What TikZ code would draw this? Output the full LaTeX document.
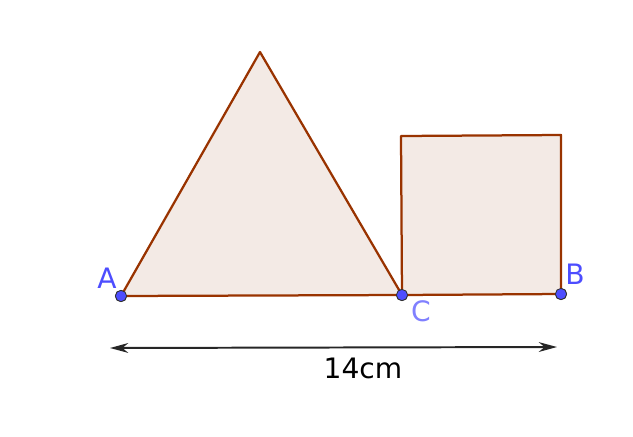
\documentclass[tikz,border=0pt]{standalone}
\usepackage{fontspec}
\setmainfont{DejaVu Sans}
\usetikzlibrary{arrows.meta}
\definecolor{edgecolor}{RGB}{153,51,0}
\definecolor{facecolor}{RGB}{243,234,229}
\definecolor{ptcolor}{RGB}{77,77,255}
\definecolor{ptlight}{RGB}{128,128,255}
\definecolor{dimcolor}{RGB}{38,38,38}
\tikzset{
    % --- styles ---
    face/.style={fill=facecolor, draw=edgecolor, line width=1.6pt, line join=round},
    pointdot/.style={circle, fill=ptcolor, draw=black!80, line width=0.6pt, inner sep=0pt, minimum size=8pt},
    ptlabel/.style={text=ptcolor, font=\fontsize{20}{23}\selectfont},
    dimline/.style={draw=dimcolor, line width=1.4pt, {Stealth[length=13pt,width=7pt]}-{Stealth[length=13pt,width=7pt]}}
}

\begin{document}
\begin{tikzpicture}[x=0.025cm, y=-0.025cm]
    \useasboundingbox (0,0) rectangle (633,436);

    % corners of the shapes
    \coordinate (T) at (260,52);
    \coordinate (S1) at (401,136);
    \coordinate (S2) at (561,135);

    \node[pointdot] (A) at (121,296) {};
    \node[pointdot] (C) at (402,295) {};
    \node[pointdot] (B) at (561,294) {};

    \filldraw[face] (A.center) -- (T) -- (C.center) -- cycle;
    \filldraw[face] (C.center) -- (S1) -- (S2) -- (B.center) -- cycle;

    % redraw the dots on top
    \node[pointdot] at (A) {};
    \node[pointdot] at (C) {};
    \node[pointdot] at (B) {};

    \node[ptlabel] (labA) at (107,278) {A};
    \node[ptlabel, text=ptlight] (labC) at (421,311) {C};
    \node[ptlabel] (labB) at (575,274) {B};

    \coordinate (d1) at (110,348);
    \coordinate (d2) at (557,347);
    \draw[dimline] (d1) -- (d2);
    \node[font=\fontsize{20}{23}\selectfont] (len) at (363,368) {14cm};
\end{tikzpicture}
\end{document}
